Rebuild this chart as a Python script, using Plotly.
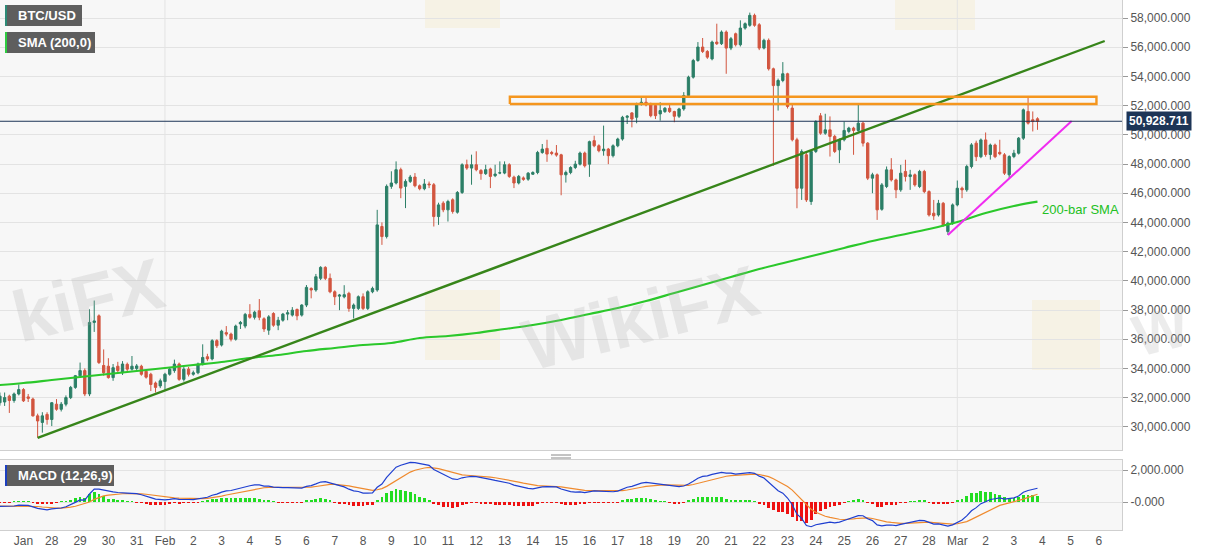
import plotly.graph_objects as go
import pandas as pd

# ---------------- data (4-hour BTC/USD candles) ----------------
opens = [31650, 31700, 32100, 31800, 32250, 32550, 32050, 31900, 30750, 30300, 30850, 30500, 31550, 31200, 31550, 32000, 32700, 33500, 33850, 32250,
         37150, 37600, 34200, 34150, 33370, 34150, 33700, 34280, 33950, 34000, 34150, 33800, 33600, 33000, 32800, 33100, 33600, 33850, 34300, 33250,
         33950, 33600, 33700, 34300, 34800, 34650, 35900, 35600, 36450, 36350, 36000, 37050, 36900, 37700, 37500, 37950, 37400, 36620, 37760, 36960,
         37300, 37720, 37650, 38040, 37650, 38340, 39480, 39370, 40170, 40920, 40170, 39250, 38950, 38900, 39140, 38110, 38110, 38910, 38110, 39250,
         39370, 43720, 43030, 46470, 46700, 47610, 46470, 46810, 47110, 46510, 46310, 46630, 46580, 44400, 45320, 44860, 45550, 44700, 46050, 47950,
         47720, 47950, 47560, 47340, 47660, 47200, 47380, 47380, 47950, 47100, 46700, 47050, 46960, 47300, 47420, 48790, 49070, 48790, 48750, 48630,
         47260, 47420, 47760, 47990, 48750, 47990, 49600, 49250, 48910, 49020, 48570, 49250, 49710, 51200, 51500, 51200, 52120, 52230, 52120, 52000,
         51430, 51590, 51820, 51590, 51270, 51770, 52690, 53950, 55090, 56010, 55710, 55200, 56350, 56240, 57040, 55940, 56920, 56170, 57310, 57500,
         58180, 57540, 55940, 56470, 54520, 53370, 53720, 54180, 51830, 49660, 46340, 48630, 45430, 48860, 51300, 50110, 50340, 49890, 48970, 49660,
         50230, 50460, 50300, 50800, 49430, 47030, 47260, 44900, 46460, 47600, 46910, 46230, 47490, 47140, 47260, 46460, 47490, 46110, 44630, 44510,
         45310, 43370, 43940, 45200, 46340, 46230, 47830, 49430, 48500, 49650, 48650, 49300, 48800, 48630, 47260, 48510, 48740, 49770, 51600, 51030,
         51100]
highs = [32350, 32350, 32200, 32350, 32900, 32650, 32250, 32000, 30900, 31000, 31000, 31700, 31900, 31700, 32150, 32800, 33550, 34400, 34000, 38050,
         38650, 37700, 35300, 34700, 34300, 34450, 34500, 34400, 34850, 34300, 34250, 33900, 33700, 33100, 33300, 33700, 34100, 34600, 34400, 34100,
         34100, 33850, 34400, 35650, 35000, 36000, 36000, 36650, 36900, 36450, 37000, 37250, 37800, 38400, 37950, 38750, 37500, 37650, 37850, 37530,
         37800, 38000, 38200, 38100, 38400, 39710, 39550, 40470, 41000, 41000, 40500, 39350, 39100, 39700, 39250, 38450, 39000, 39140, 39350, 39600,
         44860, 44000, 46600, 47500, 48180, 47750, 46950, 47250, 47380, 46600, 46970, 46800, 46700, 45350, 45450, 45550, 45650, 46150, 48050, 48300,
         48640, 48870, 47650, 47950, 47750, 47950, 48180, 48180, 48050, 47200, 47250, 47150, 47450, 47500, 48900, 49370, 49660, 48900, 49300, 48700,
         47550, 47850, 48220, 48850, 48850, 49600, 49940, 49350, 50630, 49100, 49350, 49800, 51300, 51350, 51550, 52200, 52570, 52570, 52200, 52100,
         52230, 51900, 52050, 51650, 51850, 52920, 54050, 55200, 56350, 56630, 55800, 56450, 57610, 57150, 57150, 56700, 57000, 57840, 57700, 58370,
         58300, 57650, 56580, 56600, 54600, 53850, 54980, 54250, 52170, 49800, 49000, 48750, 48950, 51000, 51490, 51440, 51260, 50000, 49750, 50910,
         50550, 50550, 52060, 50900, 49500, 47400, 47350, 46700, 47830, 48400, 47000, 47940, 48290, 47600, 47350, 47600, 47600, 46200, 45540, 45540,
         45400, 44050, 45300, 46870, 46450, 47950, 49430, 49600, 49750, 50160, 49400, 49400, 49660, 48750, 48600, 48970, 49850, 51800, 52630, 51600,
         51200]
lows = [31450, 31430, 30950, 31650, 32150, 31700, 31700, 30700, 29250, 29600, 30150, 30050, 31100, 31050, 31400, 31900, 32600, 33400, 32100, 32100,
        36500, 34300, 33500, 33300, 33150, 33700, 33550, 33800, 33850, 33800, 33500, 33300, 32450, 32350, 32650, 32450, 33500, 33700, 33150, 33100,
        33450, 33500, 33600, 34200, 34500, 34550, 35400, 35500, 36200, 35850, 35900, 36700, 36750, 37400, 37350, 37300, 36500, 36300, 36850, 36620,
        37200, 37300, 37550, 37300, 37550, 38200, 38800, 39250, 40050, 40050, 39150, 38340, 37990, 38800, 37880, 37420, 38000, 38000, 38000, 39150,
        39250, 42460, 42900, 46300, 46600, 45660, 44980, 46700, 46400, 46200, 46200, 46350, 43720, 43830, 44700, 44060, 44600, 44600, 45950, 47600,
        46580, 47500, 46920, 47250, 46350, 47100, 47300, 47300, 47050, 46350, 46600, 46850, 46850, 47250, 47300, 48700, 48150, 48600, 48500, 45860,
        46730, 47300, 47650, 47900, 47760, 47120, 49150, 48800, 48570, 47990, 48450, 49150, 49600, 50740, 50510, 50790, 52000, 51950, 51200, 51080,
        50970, 51500, 51500, 50860, 51150, 51650, 52600, 53850, 55000, 55600, 55200, 55100, 56150, 56150, 54180, 55800, 56050, 56050, 57200, 57400,
        57400, 55800, 55850, 54400, 47880, 51660, 53600, 51800, 49550, 44970, 45540, 45400, 45200, 48750, 50000, 50000, 48510, 48750, 48060, 49550,
        50100, 48630, 50200, 49200, 46900, 46000, 44170, 44800, 46350, 46800, 45660, 46100, 46800, 46230, 46450, 46350, 46000, 44400, 44170, 44400,
        43700, 43140, 43830, 45100, 45660, 46100, 47700, 48200, 48400, 48500, 48300, 48400, 48600, 47250, 47030, 48400, 48650, 49650, 50700, 50230,
        50340]
closes = [32100, 32000, 31800, 32250, 32550, 31780, 31950, 30750, 30400, 30750, 30500, 31650, 31200, 31550, 32000, 32700, 33500, 33850, 32250, 37150,
          37250, 34400, 33700, 33370, 34050, 33850, 34300, 33950, 34150, 34170, 33600, 33400, 32900, 32700, 33150, 33600, 33950, 34300, 33250, 33950,
          33600, 33700, 34300, 34750, 34650, 35900, 35550, 36550, 36350, 36000, 36900, 37150, 37700, 37500, 37850, 37500, 36700, 37530, 36960, 37300,
          37720, 37810, 37990, 37600, 38340, 39550, 39370, 40280, 40920, 40170, 39250, 38910, 39020, 39050, 38110, 38340, 38910, 38110, 39250, 39480,
          43830, 43030, 46470, 46700, 47610, 46350, 46810, 47110, 46510, 46310, 46630, 46580, 44400, 45200, 44860, 45430, 44750, 46050, 47950, 47720,
          47950, 47610, 47340, 47610, 47150, 47310, 47400, 47950, 47150, 46700, 47150, 46950, 47370, 47420, 48790, 49020, 48680, 48730, 48610, 47260,
          47420, 47760, 47990, 48750, 47880, 49530, 49250, 48910, 49020, 48570, 49250, 49710, 51200, 51270, 51080, 52120, 52230, 52050, 51310, 51310,
          51660, 51820, 51590, 51270, 51770, 52690, 53950, 55090, 56010, 55710, 55320, 56350, 56240, 57040, 55940, 56580, 56170, 57310, 57610, 58180,
          57500, 55940, 56470, 54520, 53370, 53720, 54180, 51940, 49660, 46340, 48860, 45540, 48860, 50910, 50110, 50340, 49890, 48860, 49660, 50300,
          50460, 50300, 50800, 49430, 47030, 47260, 44860, 46570, 47600, 46910, 46230, 47370, 47140, 47260, 46570, 47490, 46110, 44510, 44450, 45310,
          43830, 43940, 45200, 46340, 46230, 47830, 49310, 48500, 49650, 48650, 49300, 48500, 48700, 47370, 48510, 48740, 49770, 51710, 50800, 50910,
          50928.711]

first_bar = "2021-01-26 04:00"
bar_step = "4h"

sma_dates = ["2021-01-26 04:00", "2021-01-27 00:00", "2021-01-28 00:00", "2021-01-29 00:00", "2021-01-30 00:00", "2021-01-31 00:00",
             "2021-02-01 00:00", "2021-02-02 00:00", "2021-02-03 00:00", "2021-02-04 00:00", "2021-02-05 00:00", "2021-02-06 00:00",
             "2021-02-07 00:00", "2021-02-08 00:00", "2021-02-09 00:00", "2021-02-10 00:00", "2021-02-11 00:00", "2021-02-12 00:00",
             "2021-02-13 00:00", "2021-02-14 00:00", "2021-02-15 00:00", "2021-02-16 00:00", "2021-02-17 00:00", "2021-02-18 00:00",
             "2021-02-19 00:00", "2021-02-20 00:00", "2021-02-21 00:00", "2021-02-22 00:00", "2021-02-23 00:00", "2021-02-24 00:00",
             "2021-02-25 00:00", "2021-02-26 00:00", "2021-02-27 00:00", "2021-02-28 00:00", "2021-03-01 00:00", "2021-03-02 00:00",
             "2021-03-03 00:00", "2021-03-03 20:00"]
sma_values = [32864, 33001, 33207, 33412, 33617, 33823, 34028, 34234, 34439, 34713, 34918, 35192, 35398,
              35603, 35740, 36082, 36219, 36425, 36699, 36973, 37315, 37726, 38138, 38617, 39165, 39713, 40261,
              40809, 41288, 41768, 42247, 42727, 43138, 43549, 44028, 44644, 45124, 45418]

trend_dates = ["2021-01-27 12:00", "2021-03-06 05:00"]
trend_prices = [29250, 56425]
support_dates = ["2021-02-28 16:00", "2021-03-05 01:00"]
support_prices = [43140, 50945]
zone_dates = ["2021-02-13 04:30", "2021-03-05 22:00"]
zone_prices = [52110, 52610]
last_price = 50928.711

# MACD state at the first bar
macd_fast, macd_slow, macd_sig = 12, 26, 9
ema_fast_start, ema_slow_start, signal_start = 32210, 32500, -250

price_ticks = list(range(30000, 58001, 2000))
day_labels = ["Jan", "28", "29", "30", "31", "Feb"] + [str(d) for d in range(2, 29)] + ["Mar", "2", "3", "4", "5", "6"]

# ---------------- derived ----------------
times = pd.date_range(first_bar, periods=len(closes), freq=bar_step)
day_ticks = pd.date_range("2021-01-27", periods=len(day_labels), freq="D")


def to_dt(lst):
    return pd.to_datetime(lst, format="ISO8601")


def ema(values, n, start):
    k = 2.0 / (n + 1)
    out, e = [], start
    for v in values:
        e = v * k + e * (1 - k)
        out.append(e)
    return out


ef = ema(closes, macd_fast, ema_fast_start)
es = ema(closes, macd_slow, ema_slow_start)
macd_line = [a - b for a, b in zip(ef, es)]
signal_line = ema(macd_line, macd_sig, signal_start)
hist = [m - s for m, s in zip(macd_line, signal_line)]
hist_colors = ["#22dd22" if h >= 0 else "#ee1111" for h in hist]

# ---------------- figure ----------------
W, H = 1207, 555
ML, MR, MT, MB = 0, 85, 0, 25
PW, PH = W - ML - MR, H - MT - MB


def px(xp):
    return (xp - ML) / PW


def py(yp):
    return (H - MB - yp) / PH


fig = go.Figure()

fig.add_trace(go.Candlestick(
    x=times, open=opens, high=highs, low=lows, close=closes,
    increasing=dict(line=dict(color="#2c7f67", width=1), fillcolor="#2c7f67"),
    decreasing=dict(line=dict(color="#d2553f", width=1), fillcolor="#d2553f"),
    xaxis="x", yaxis="y", showlegend=False, hoverinfo="skip"))

fig.add_trace(go.Scatter(x=to_dt(sma_dates), y=sma_values, mode="lines",
                         line=dict(color="#2bc82b", width=2.2, shape="spline"),
                         xaxis="x", yaxis="y", showlegend=False, hoverinfo="skip"))
fig.add_trace(go.Scatter(x=to_dt(trend_dates), y=trend_prices, mode="lines",
                         line=dict(color="#37851a", width=2.4),
                         xaxis="x", yaxis="y", showlegend=False, hoverinfo="skip"))
fig.add_trace(go.Scatter(x=to_dt(support_dates), y=support_prices, mode="lines",
                         line=dict(color="#f02cf0", width=2),
                         xaxis="x", yaxis="y", showlegend=False, hoverinfo="skip"))
fig.add_trace(go.Scatter(
    x=to_dt([zone_dates[0], zone_dates[1], zone_dates[1], zone_dates[0], zone_dates[0]]),
    y=[zone_prices[0], zone_prices[0], zone_prices[1], zone_prices[1], zone_prices[0]],
    mode="lines", line=dict(color="#f5961e", width=2.4),
    xaxis="x", yaxis="y", showlegend=False, hoverinfo="skip"))

# MACD panel
fig.add_trace(go.Bar(x=times, y=hist, marker=dict(color=hist_colors, line=dict(width=0)),
                     width=1000 * 3600 * 2.4, xaxis="x2", yaxis="y2", showlegend=False, hoverinfo="skip"))
fig.add_trace(go.Scatter(x=times, y=signal_line, mode="lines", line=dict(color="#ef8a2e", width=1.2),
                         xaxis="x2", yaxis="y2", showlegend=False, hoverinfo="skip"))
fig.add_trace(go.Scatter(x=times, y=macd_line, mode="lines", line=dict(color="#1f3fd0", width=1.2),
                         xaxis="x2", yaxis="y2", showlegend=False, hoverinfo="skip"))

x_range = ["2021-01-26 04:05", "2021-03-06 19:40"]
font_family = "Arial, Liberation Sans, sans-serif"
grid_col = "#e3e3e3"
axis_col = "#cfcfcf"

fig.update_layout(
    width=W, height=H,
    margin=dict(l=ML, r=MR, t=MT, b=MB),
    paper_bgcolor="white", plot_bgcolor="#f7f7f7",
    font=dict(family=font_family, size=12, color="#555"),
    bargap=0,
    xaxis=dict(domain=[0, 1], anchor="y", range=x_range, showgrid=False, showticklabels=False,
               rangeslider=dict(visible=False), showline=True, mirror=True, linecolor=axis_col,
               zeroline=False),
    yaxis=dict(domain=[py(450), 1], side="right", range=[28412, 59233], tickvals=price_ticks,
               tickformat=",.3f", ticks="outside", ticklen=5, tickcolor="#999",
               gridcolor=grid_col, showline=True, mirror=True, linecolor=axis_col, zeroline=False,
               tickfont=dict(size=12, color="#555")),
    xaxis2=dict(domain=[0, 1], anchor="y2", range=x_range, matches="x", showgrid=False,
                tickvals=day_ticks, ticktext=day_labels, ticks="", tickfont=dict(size=12, color="#555"),
                showline=True, mirror=True, linecolor=axis_col, zeroline=False, rangeslider=dict(visible=False)),
    yaxis2=dict(domain=[0, py(460)], side="right", range=[-1750, 2625], tickvals=[2000, 0],
                ticktext=["2,000.000", "-0.000"], ticks="outside", ticklen=5, tickcolor="#999",
                gridcolor=grid_col, showline=True, mirror=True, linecolor=axis_col, zeroline=False,
                tickfont=dict(size=12, color="#555")),
)

shapes = []
# month separators
for d in ["2021-02-01", "2021-03-01"]:
    shapes.append(dict(type="line", xref="x", yref="y", x0=d, x1=d, y0=28412, y1=59233,
                       line=dict(color=grid_col, width=1), layer="below"))
    shapes.append(dict(type="line", xref="x2", yref="y2", x0=d, x1=d, y0=-1750, y1=2625,
                       line=dict(color=grid_col, width=1), layer="below"))
# last price line
shapes.append(dict(type="line", xref="paper", yref="y", x0=0, x1=1, y0=last_price, y1=last_price,
                   line=dict(color="#1d3557", width=1)))
# label boxes
for (x0, x1, y0, y1, stripe) in [(5, 82, 5, 26, "#2c8a76"), (5, 95, 32, 53, "#2ecc40"), (5, 114, 465, 486, "#1c3fbf")]:
    shapes.append(dict(type="rect", xref="paper", yref="paper", x0=px(x0), x1=px(x1), y0=py(y1), y1=py(y0),
                       fillcolor="#5e5e5e", line=dict(width=0)))
    shapes.append(dict(type="rect", xref="paper", yref="paper", x0=px(x0), x1=px(x0 + 2), y0=py(y1), y1=py(y0),
                       fillcolor=stripe, line=dict(width=0)))
# pane splitter grip
for yy in [455, 458]:
    shapes.append(dict(type="line", xref="paper", yref="paper", x0=px(551), x1=px(571), y0=py(yy), y1=py(yy),
                       line=dict(color="#888", width=1)))
# faint watermark logo tiles
for (x0, y0, x1, y1) in [(425, 290, 500, 360), (1032, 300, 1100, 370), (425, -20, 500, 28), (895, -20, 975, 30)]:
    shapes.append(dict(type="rect", xref="paper", yref="paper", x0=px(x0), x1=px(x1), y0=py(y1), y1=py(y0),
                       fillcolor="rgba(246,228,170,0.22)", line=dict(width=0), layer="below"))
fig.update_layout(shapes=shapes)

ann = []
for (x, y, t) in [(16, 15.5, "BTC/USD"), (16, 42.5, "SMA (200,0)"), (16, 475.5, "MACD (12,26,9)")]:
    ann.append(dict(xref="paper", yref="paper", x=px(x), y=py(y), text="<b>" + t + "</b>", showarrow=False,
                    xanchor="left", yanchor="middle", font=dict(color="white", size=13, family=font_family)))
ann.append(dict(xref="paper", yref="y", x=px(1126), y=last_price, text="<b>50,928.711</b>", showarrow=False,
                xanchor="left", yanchor="middle", bgcolor="#1d3557", borderpad=2,
                font=dict(color="white", size=12, family=font_family)))
ann.append(dict(xref="paper", yref="paper", x=px(1040), y=py(209), text="200-bar SMA", showarrow=False,
                xanchor="left", yanchor="middle", font=dict(color="#22c022", size=13, family=font_family)))
# watermark text
for (x, y, t, s) in [(88, 300, "kiFX", 72), (640, 318, "WikiFX", 72), (1160, 330, "W", 58)]:
    ann.append(dict(xref="paper", yref="paper", x=px(x), y=py(y), text="<b>" + t + "</b>", showarrow=False,
                    xanchor="center", yanchor="middle", textangle=-14,
                    font=dict(color="rgba(170,170,170,0.22)", size=s, family=font_family)))
fig.update_layout(annotations=ann)

fig.write_html("out.html", config={"displayModeBar": False},
               post_script="document.body.style.margin='0px';document.documentElement.style.margin='0px';")
